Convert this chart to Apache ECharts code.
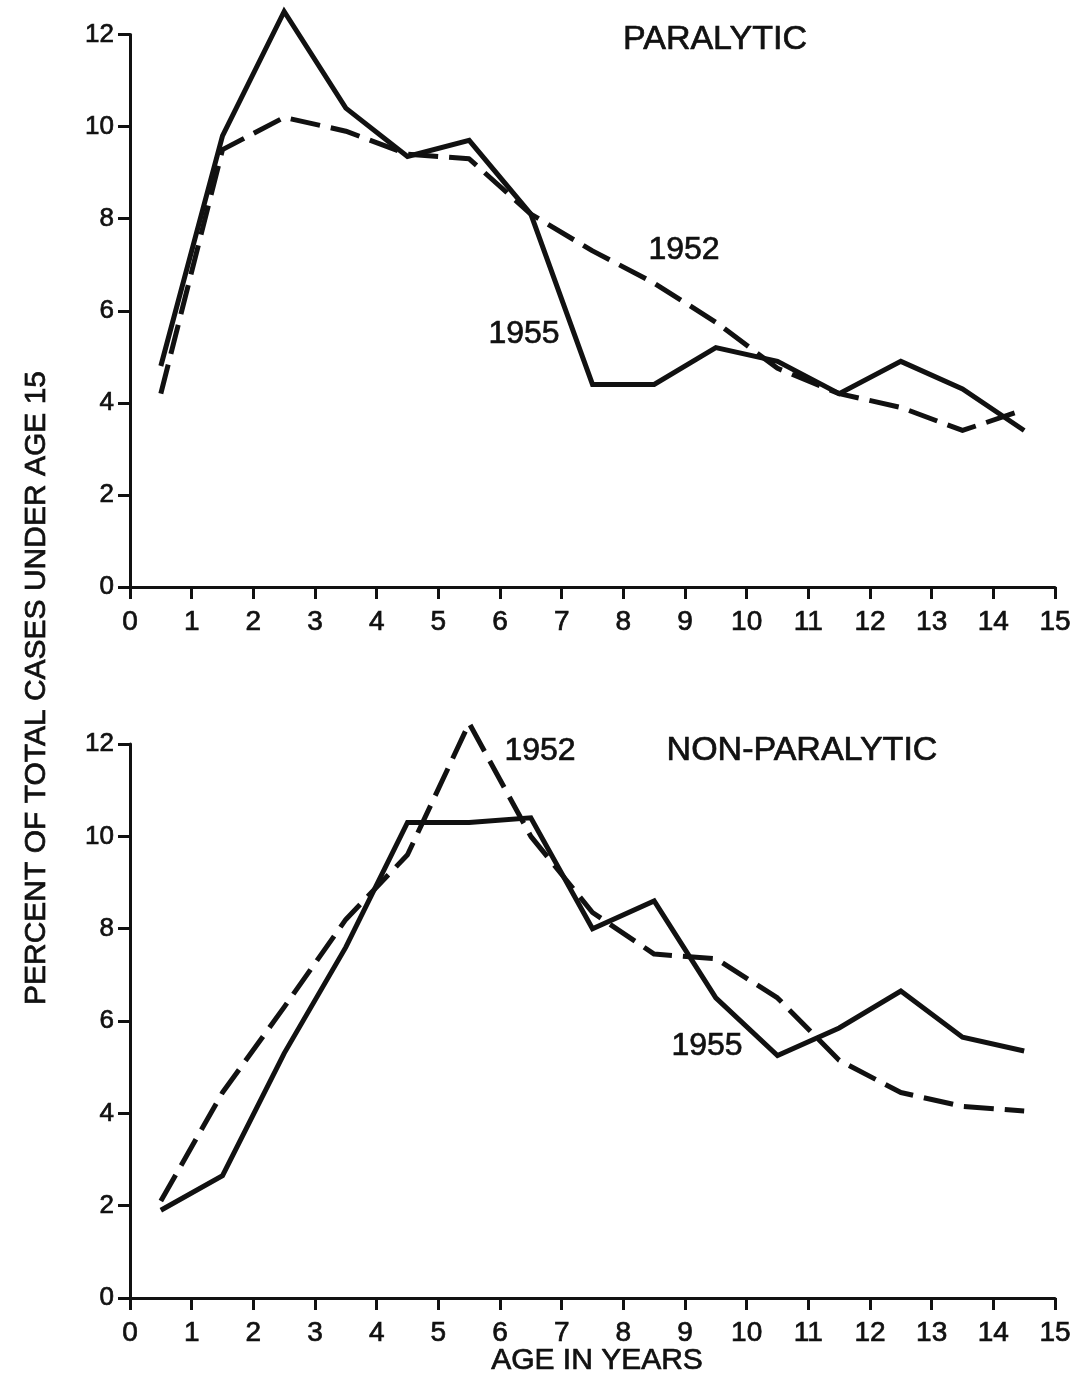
<!DOCTYPE html>
<html>
<head>
<meta charset="utf-8">
<script src="https://cdn.jsdelivr.net/npm/echarts@6/dist/echarts.min.js"></script>
<style>
html,body{margin:0;padding:0;background:#fff;}
#chart{width:1082px;height:1373px;}
</style>
</head>
<body>
<div id="chart"></div>
<script>
// ---- data ----
const ages = [0.5, 1.5, 2.5, 3.5, 4.5, 5.5, 6.5, 7.5, 8.5, 9.5, 10.5, 11.5, 12.5, 13.5, 14.5];
const xTicks = [0,1,2,3,4,5,6,7,8,9,10,11,12,13,14,15];
const yTicks = [0,2,4,6,8,10,12];
const paralytic1955 = [4.8, 9.8, 12.5, 10.4, 9.35, 9.7, 8.1, 4.4, 4.4, 5.2, 4.9, 4.2, 4.9, 4.3, 3.4];
const paralytic1952 = [4.2, 9.5, 10.2, 9.9, 9.4, 9.3, 8.1, 7.3, 6.6, 5.75, 4.75, 4.2, 3.9, 3.4, 3.85];
const nonParalytic1955 = [1.9, 2.65, 5.3, 7.6, 10.3, 10.3, 10.4, 8.0, 8.6, 6.5, 5.25, 5.85, 6.65, 5.65, 5.35];
const nonParalytic1952 = [2.1, 4.45, 6.3, 8.2, 9.6, 12.45, 10.0, 8.35, 7.45, 7.35, 6.5, 5.15, 4.45, 4.15, 4.05];

const INK = '#111';
const FONT = '"Liberation Sans", Arial, sans-serif';

function pairs(ys){ return ages.map((a,i)=>[a, ys[i]]); }

function xAxis(idx){
  return {
    type:'value', gridIndex: idx, min:0, max:15, interval:1,
    axisLine:{show:true, onZero:false, lineStyle:{color:INK, width:3}},
    axisTick:{show:true, inside:false, length:12, lineStyle:{color:INK, width:3}},
    axisLabel:{show:true, color:INK, fontFamily:FONT, fontSize:28, margin:21,
      textBorderColor:INK, textBorderWidth:0.7,
      formatter: v => xTicks.includes(v) ? String(v) : ''},
    splitLine:{show:false}
  };
}
function yAxis(idx){
  return {
    type:'value', gridIndex: idx, min:0, max:12, interval:2,
    axisLine:{show:true, onZero:false, lineStyle:{color:INK, width:3}},
    axisTick:{show:true, inside:false, length:12, lineStyle:{color:INK, width:3}},
    axisLabel:{show:true, color:INK, fontFamily:FONT, fontSize:26, margin:16,
      textBorderColor:INK, textBorderWidth:0.7,
      formatter: v => yTicks.includes(v) ? String(v) : ''},
    splitLine:{show:false}
  };
}
function solid(idx, ys){
  return {type:'line', xAxisIndex:idx, yAxisIndex:idx, data:pairs(ys), showSymbol:false, symbol:'none',
    clip:false, lineStyle:{color:INK, width:5, join:'miter'}, animation:false, z:3};
}
function dashed(idx, ys){
  return {type:'line', xAxisIndex:idx, yAxisIndex:idx, data:pairs(ys), showSymbol:false, symbol:'none',
    clip:false, lineStyle:{color:INK, width:5, type:[30,11], cap:'butt', join:'round'}, animation:false, z:2};
}
function txt(x, y, s, size, rot){
  return {type:'text', x:x, y:y, rotation: rot||0,
    style:{text:s, fill:INK, font: size + 'px ' + FONT, textAlign:'center', textVerticalAlign:'middle',
      stroke:INK, lineWidth:0.7}};
}

const chart = echarts.init(document.getElementById('chart'), null, {renderer:'canvas'});
chart.setOption({
  backgroundColor:'#fff',
  animation:false,
  grid:[
    {left:130, top:34.5, width:925, height:552.5, containLabel:false},
    {left:130, top:744, width:925, height:554, containLabel:false}
  ],
  xAxis:[xAxis(0), xAxis(1)],
  yAxis:[yAxis(0), yAxis(1)],
  series:[
    solid(0, paralytic1955),
    dashed(0, paralytic1952),
    solid(1, nonParalytic1955),
    dashed(1, nonParalytic1952)
  ],
  graphic:[
    txt(715, 40, 'PARALYTIC', 34),
    txt(802, 751, 'NON-PARALYTIC', 34),
    txt(684, 250, '1952', 32),
    txt(524, 334, '1955', 32),
    txt(540, 751, '1952', 32),
    txt(707, 1046, '1955', 32),
    txt(597, 1361, 'AGE IN YEARS', 30),
    txt(37, 688, 'PERCENT OF TOTAL CASES UNDER AGE 15', 30, Math.PI/2)
  ]
});
</script>
</body>
</html>
